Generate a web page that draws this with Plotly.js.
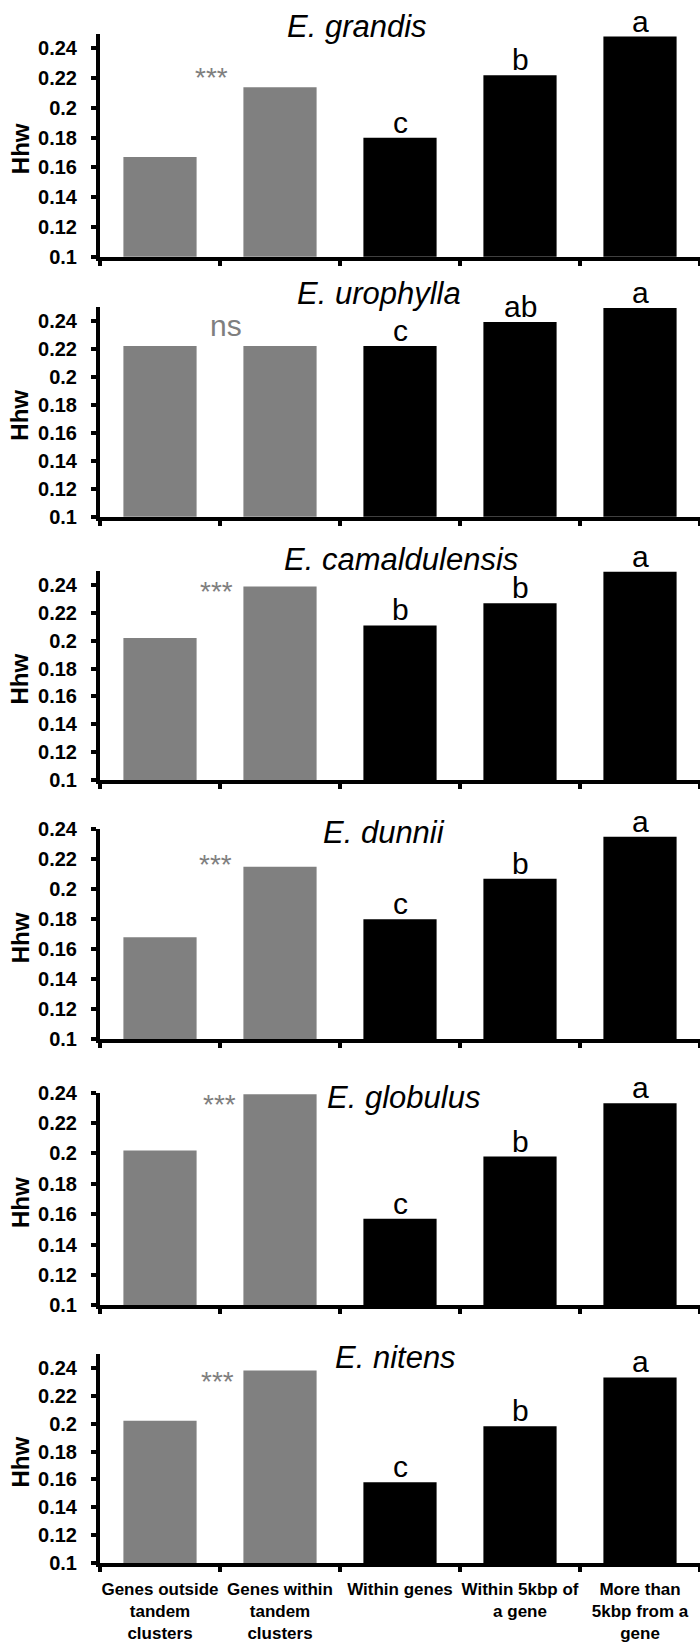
<!DOCTYPE html>
<html>
<head>
<meta charset="utf-8">
<script src="https://cdn.plot.ly/plotly-3.0.1.min.js"></script>
<style>html,body{margin:0;padding:0;background:#fff;}#chart{width:700px;height:1644px;}</style>
</head>
<body>
<div id="chart"></div>
<script>
// ---------- data ----------
const categories = [
  'Genes outside<br>tandem<br>clusters',
  'Genes within<br>tandem<br>clusters',
  'Within genes',
  'Within 5kbp of<br>a gene',
  'More than<br>5kbp from a<br>gene'
];
const species = ['E. grandis', 'E. urophylla', 'E. camaldulensis', 'E. dunnii', 'E. globulus', 'E. nitens'];
const grandis       = [0.167, 0.214, 0.180, 0.222, 0.248];
const urophylla     = [0.222, 0.222, 0.222, 0.239, 0.249];
const camaldulensis = [0.202, 0.239, 0.211, 0.227, 0.2495];
const dunnii        = [0.168, 0.215, 0.180, 0.207, 0.235];
const globulus      = [0.202, 0.239, 0.157, 0.198, 0.233];
const nitens        = [0.202, 0.238, 0.158, 0.198, 0.233];
const tandemTest    = ['***', 'ns', '***', '***', '***', '***'];
const regionLetters = [
  ['', '', 'c', 'b', 'a'],
  ['', '', 'c', 'ab', 'a'],
  ['', '', 'b', 'b', 'a'],
  ['', '', 'c', 'b', 'a'],
  ['', '', 'c', 'b', 'a'],
  ['', '', 'c', 'b', 'a']
];
const yTickVals = [0.1, 0.12, 0.14, 0.16, 0.18, 0.2, 0.22, 0.24];
const yTickText = ['0.1', '0.12', '0.14', '0.16', '0.18', '0.2', '0.22', '0.24'];
const yAxisMax  = [0.25, 0.25, 0.25, 0.24, 0.24, 0.25];
const yAxisTitle = 'Hhw';

const seriesValues = [grandis, urophylla, camaldulensis, dunnii, globulus, nitens];
const barColors = ['#808080', '#808080', '#000000', '#000000', '#000000'];

// ---------- layout geometry (pixels) ----------
const W = 700, H = 1644, L = 100;
const topPx = [33.6, 306.7, 571.1, 829.3, 1092.7, 1353.7];
const botPx = [256.7, 516.7, 780, 1039.3, 1305.4, 1563.3];
const titleXpx = [357, 379, 401, 384, 403, 395];
const titleYpx = [27, 294, 559, 833, 1097, 1357];
const sigXpx = [211, 226, 216, 215, 219, 217];
const sigYpx = [71.5, 328.3, 585, 857.7, 1098, 1375];

const fy = p => 1 - p / H;
const fx = p => (p - L) / (W - L);

const FONT = 'Liberation Sans, Arial, sans-serif';
const traces = [];
const annotations = [];
const layout = {
  width: W, height: H,
  margin: {l: L, r: 0, t: 0, b: 0, pad: 0},
  paper_bgcolor: '#fff', plot_bgcolor: '#fff',
  showlegend: false,
  bargap: 0.39,
  font: {family: FONT, color: '#000'}
};

seriesValues.forEach((vals, i) => {
  const n = i + 1;
  const xa = 'x' + (n === 1 ? '' : n), ya = 'y' + (n === 1 ? '' : n);
  traces.push({
    type: 'bar', x: categories, y: vals, xaxis: xa, yaxis: ya,
    marker: {color: barColors, line: {width: 0}},
    hoverinfo: 'skip'
  });
  layout['xaxis' + (n === 1 ? '' : n)] = {
    type: 'category', anchor: ya, domain: [0, 1], range: [-0.5, 4.5],
    showline: true, linewidth: 4, linecolor: '#000',
    ticks: 'outside', tickson: 'boundaries', ticklen: 5, tickwidth: 4, tickcolor: '#000',
    showgrid: false, zeroline: false,
    showticklabels: n === 6,
    tickangle: 0,
    ticklabelstandoff: 7,
    tickfont: {family: FONT, size: 17, color: '#000', weight: 'bold'},
    fixedrange: true
  };
  layout['yaxis' + (n === 1 ? '' : n)] = {
    anchor: xa, domain: [fy(botPx[i]), fy(topPx[i])], range: [0.1, yAxisMax[i]],
    showline: true, linewidth: 4, linecolor: '#000',
    ticks: 'outside', ticklen: 5, tickwidth: 4, tickcolor: '#000',
    tickvals: yTickVals, ticktext: yTickText,
    showgrid: false, zeroline: false,
    ticklabelstandoff: 10,
    tickfont: {family: FONT, size: 20, color: '#000', weight: 'bold'},
    fixedrange: true
  };
  // species title
  annotations.push({
    xref: 'paper', yref: 'paper', x: fx(titleXpx[i]), y: fy(titleYpx[i]),
    xanchor: 'center', yanchor: 'middle', showarrow: false,
    text: species[i], font: {family: FONT, size: 31, color: '#000', style: 'italic'}
  });
  // y axis title
  annotations.push({
    xref: 'paper', yref: 'paper', x: fx(20), y: fy((topPx[i] + botPx[i]) / 2 + 4),
    xanchor: 'center', yanchor: 'middle', showarrow: false, textangle: -90,
    text: yAxisTitle, font: {family: FONT, size: 24, color: '#000', weight: 'bold'}
  });
  // tandem significance
  const isStar = tandemTest[i].indexOf('*') >= 0;
  annotations.push({
    xref: 'paper', yref: 'paper', x: fx(sigXpx[i]),
    y: fy(sigYpx[i] + (isStar ? 6.4 : -2.4)),
    xanchor: 'center', yanchor: 'middle', showarrow: false,
    text: tandemTest[i], font: {family: FONT, size: isStar ? 28 : 30, color: '#7f7f7f'}
  });
  // letters above region bars
  regionLetters[i].forEach((lt, j) => {
    if (!lt) return;
    annotations.push({
      xref: xa, yref: ya, x: categories[j], y: vals[j],
      xanchor: 'center', yanchor: 'bottom', showarrow: false, yshift: -3,
      text: lt, font: {family: FONT, size: 30, color: '#000'}
    });
  });
});
layout.annotations = annotations;

Plotly.newPlot('chart', traces, layout, {staticPlot: true, displayModeBar: false});
</script>
</body>
</html>
